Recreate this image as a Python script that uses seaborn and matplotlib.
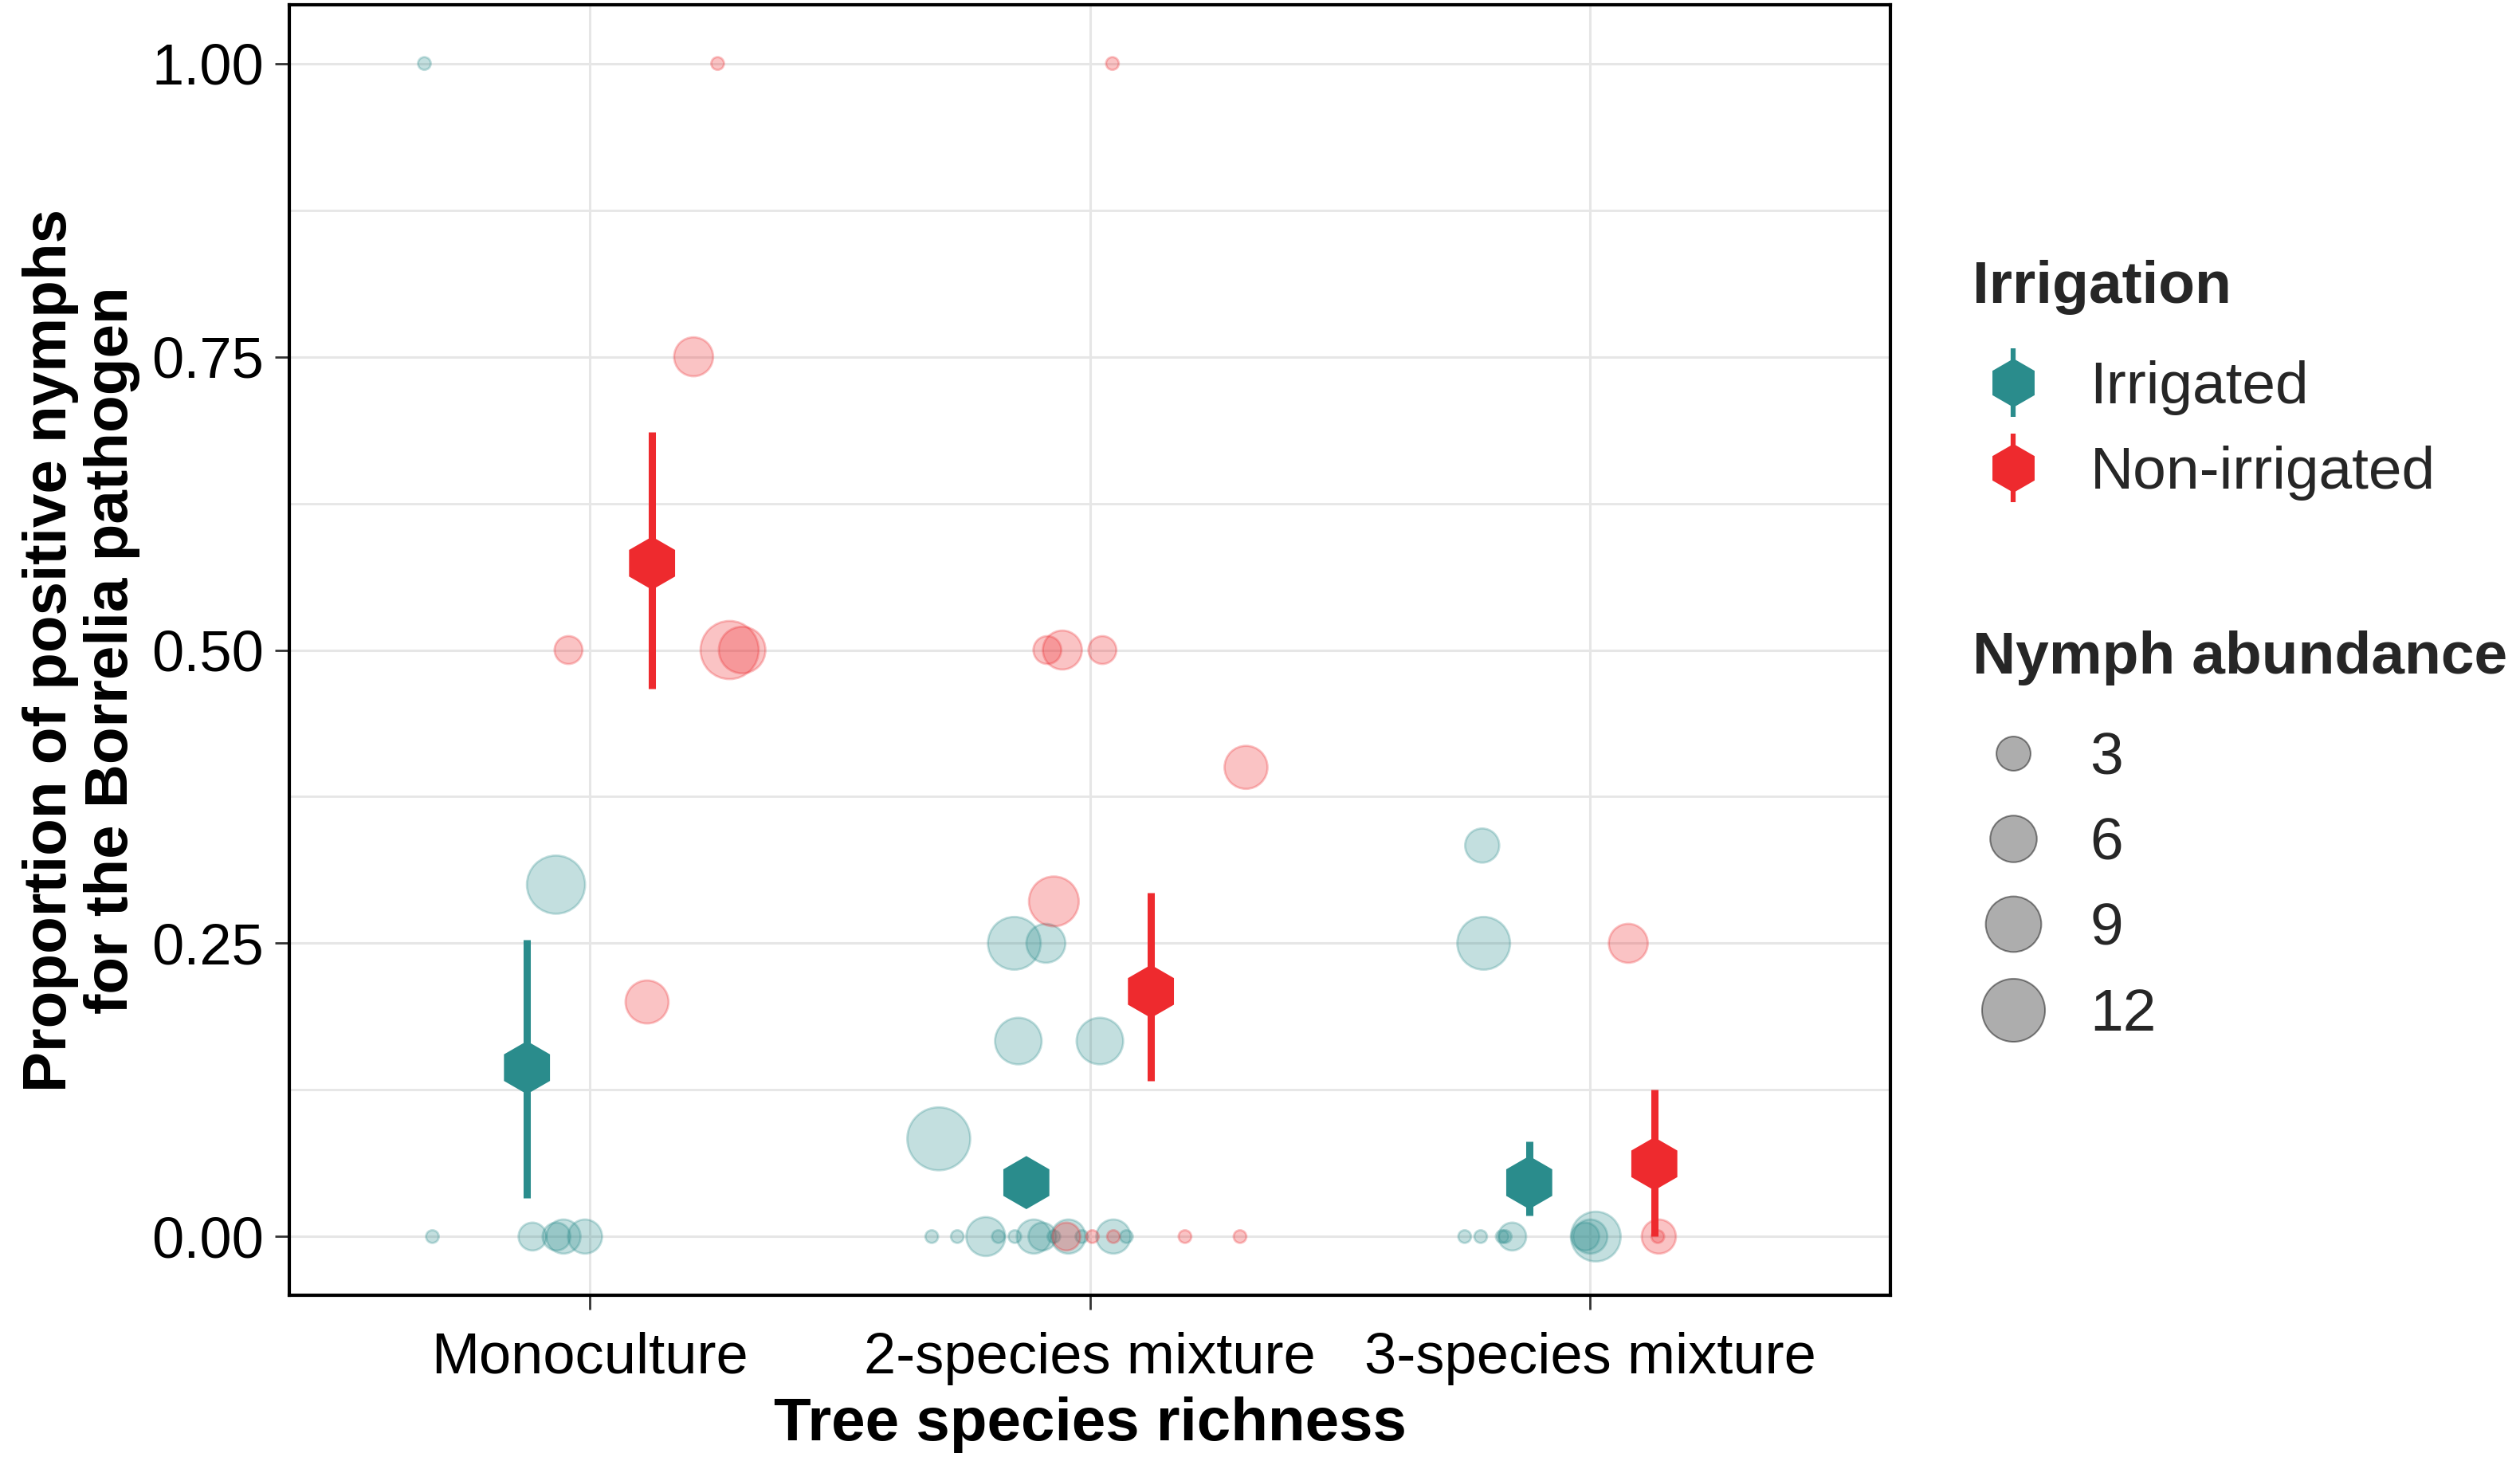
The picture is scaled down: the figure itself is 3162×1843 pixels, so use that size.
import numpy as np
import pandas as pd
import matplotlib.pyplot as plt
from matplotlib.lines import Line2D
from matplotlib.legend_handler import HandlerTuple
from matplotlib.ticker import MultipleLocator
import seaborn as sns

richness = ["Monoculture", "2-species mixture", "3-species mixture"]
treatments = ["Irrigated", "Non-irrigated"]
palette = {"Irrigated": "#2A8C8C", "Non-irrigated": "#EE2A2E"}

# plot-level observations (proportion positive, nymph abundance, jitter offset)
mono_irr_prop = [1.00, 0.00, 0.00, 0.00, 0.00, 0.00, 0.30]
mono_irr_n = [1, 1, 2, 2, 3, 3, 10]
mono_irr_jit = [-0.330, -0.314, -0.114, -0.066, -0.052, -0.009, -0.067]

mono_non_prop = [1.00, 0.75, 0.50, 0.50, 0.50, 0.20]
mono_non_n = [1, 4, 2, 10, 6, 5]
mono_non_jit = [0.256, 0.208, -0.042, 0.280, 0.305, 0.115]

two_irr_prop = [0.25, 0.25, 1 / 6, 1 / 6, 1 / 12,
                0, 0, 0, 0, 0, 0, 0, 0, 0, 0, 0, 0]
two_irr_n = [8, 4, 6, 6, 12,
             1, 1, 4, 1, 1, 3, 2, 1, 3, 1, 3, 1]
two_irr_jit = [-0.151, -0.088, -0.143, 0.020, -0.302,
               -0.316, -0.265, -0.208, -0.183, -0.150, -0.112, -0.095,
               -0.072, -0.043, -0.016, 0.047, 0.073]

two_non_prop = [0.50, 0.50, 0.50, 1.00, 0.40, 2 / 7, 0, 0, 0, 0, 0]
two_non_n = [2, 4, 2, 1, 5, 7, 1, 1, 1, 1, 2]
two_non_jit = [-0.085, -0.055, 0.025, 0.045, 0.312, -0.072,
               0.190, 0.300, 0.047, 0.005, -0.047]

three_irr_prop = [1 / 3, 0.25, 0, 0, 0, 0, 0, 0, 0, 0]
three_irr_n = [3, 8, 1, 1, 1, 1, 2, 7, 3, 2]
three_irr_jit = [-0.216, -0.213, -0.251, -0.219, -0.176, -0.170, -0.156,
                 0.011, 0.000, -0.010]

three_non_prop = [0.25, 0.00, 0.00]
three_non_n = [4, 3, 1]
three_non_jit = [0.076, 0.137, 0.135]

# model estimates (mean and interval), dodged by treatment
est_richness = [0, 0, 1, 1, 2, 2]
est_treatment = ["Irrigated", "Non-irrigated"] * 3
est_dodge = [-0.125, 0.125, -0.127, 0.122, -0.122, 0.128]
est_mean = [0.144, 0.574, 0.046, 0.209, 0.046, 0.062]
est_low = [0.033, 0.467, 0.030, 0.133, 0.018, 0.000]
est_high = [0.253, 0.686, 0.066, 0.293, 0.081, 0.125]

legend_breaks = [3, 6, 9, 12]

groups = [
    (0, "Irrigated", mono_irr_prop, mono_irr_n, mono_irr_jit),
    (0, "Non-irrigated", mono_non_prop, mono_non_n, mono_non_jit),
    (1, "Irrigated", two_irr_prop, two_irr_n, two_irr_jit),
    (1, "Non-irrigated", two_non_prop, two_non_n, two_non_jit),
    (2, "Irrigated", three_irr_prop, three_irr_n, three_irr_jit),
    (2, "Non-irrigated", three_non_prop, three_non_n, three_non_jit),
]
rows = []
for ri, trt, prop, n, jit in groups:
    for p, k, j in zip(prop, n, jit):
        rows.append({"x": ri + j, "prop": p, "n": k, "Irrigation": trt})
obs = pd.DataFrame(rows)

est = pd.DataFrame({
    "x": np.array(est_richness) + np.array(est_dodge),
    "mean": est_mean, "low": est_low, "high": est_high,
    "Irrigation": est_treatment,
})


def diam_pt(k):
    # ggplot-like area scale: diameter grows with sqrt of abundance
    return 0.72 * (16 + 19 * np.sqrt(k - 1))


sns.set_theme(style="white")
plt.rcParams["font.family"] = ["Liberation Sans", "DejaVu Sans"]

fig, ax = plt.subplots(figsize=(31.62, 18.43), dpi=100)
fig.subplots_adjust(left=0.1148, right=0.7502, top=0.9967, bottom=0.1183)

size_map = {k: diam_pt(k) ** 2 for k in sorted(obs["n"].unique())}
sns.scatterplot(data=obs, x="x", y="prop", hue="Irrigation", size="n",
                sizes=size_map, palette=palette, alpha=0.28,
                edgecolor="face", linewidth=2, legend=False, ax=ax, zorder=3)

for _, r in est.iterrows():
    ax.vlines(r["x"], r["low"], r["high"], color=palette[r["Irrigation"]],
              linewidth=6.5, zorder=4)
sns.scatterplot(data=est, x="x", y="mean", hue="Irrigation", palette=palette,
                marker="h", s=48 ** 2, linewidth=0, legend=False, ax=ax,
                zorder=5)

ax.set_xlim(-0.6, 2.6)
ax.set_ylim(-0.05, 1.05)
ax.set_xticks(range(len(richness)))
ax.set_xticklabels(richness)
ax.yaxis.set_major_locator(MultipleLocator(0.25))
ax.yaxis.set_minor_locator(MultipleLocator(0.125))
ax.set_yticks([0, 0.25, 0.5, 0.75, 1.0])
ax.set_yticklabels(["0.00", "0.25", "0.50", "0.75", "1.00"])
ax.grid(True, which="major", color="#E6E6E6", linewidth=2.2, zorder=0)
ax.grid(True, which="minor", axis="y", color="#E6E6E6", linewidth=2.0,
        zorder=0)
ax.set_axisbelow(True)
ax.tick_params(axis="both", which="major", length=13, width=2,
               color="#333333", labelsize=52, labelcolor="black",
               bottom=True, left=True)
ax.tick_params(axis="y", which="major", pad=10)
ax.tick_params(axis="x", which="major", pad=20)
ax.tick_params(axis="y", which="minor", length=0)
for sp in ax.spines.values():
    sp.set_color("black")
    sp.set_linewidth(3)

ax.set_xlabel("Tree species richness", fontsize=55, fontweight="bold",
              labelpad=10, color="black")
ax.set_ylabel("Proportion of positive nymphs\nfor the Borrelia pathogen",
              fontsize=55, fontweight="bold", labelpad=10, linespacing=1.12,
              color="black")

# legends
trt_handles = []
for t in treatments:
    bar = Line2D([], [], marker="|", linestyle="", markersize=62,
                 markeredgewidth=4.5, color=palette[t])
    dot = Line2D([], [], marker="h", linestyle="", markersize=44,
                 color=palette[t], markeredgewidth=0)
    trt_handles.append((bar, dot))
leg1 = fig.legend(trt_handles, treatments, title="Irrigation",
                  handler_map={tuple: HandlerTuple(ndivide=1)},
                  loc="upper left", bbox_to_anchor=(0.771, 0.8435),
                  frameon=False, fontsize=54, borderpad=0,
                  handlelength=1.36, handletextpad=0.6, labelspacing=0.51,
                  alignment="left")
leg1.get_title().set_fontsize(54)
leg1.get_title().set_fontweight("bold")
leg1._legend_box.sep = 41

size_handles = [Line2D([], [], marker="o", linestyle="",
                       markersize=diam_pt(k), markerfacecolor=(0, 0, 0, 0.32),
                       markeredgecolor=(0, 0, 0, 0.45), markeredgewidth=1.5)
                for k in legend_breaks]
leg2 = fig.legend(size_handles, [str(k) for k in legend_breaks],
                  title="Nymph abundance", loc="upper left",
                  bbox_to_anchor=(0.771, 0.591), frameon=False, fontsize=54,
                  borderpad=0, handlelength=1.36, handletextpad=0.6,
                  labelspacing=0.51, alignment="left")
leg2.get_title().set_fontsize(54)
leg2.get_title().set_fontweight("bold")
leg2._legend_box.sep = 41

fig.savefig("out.png", dpi=100)
